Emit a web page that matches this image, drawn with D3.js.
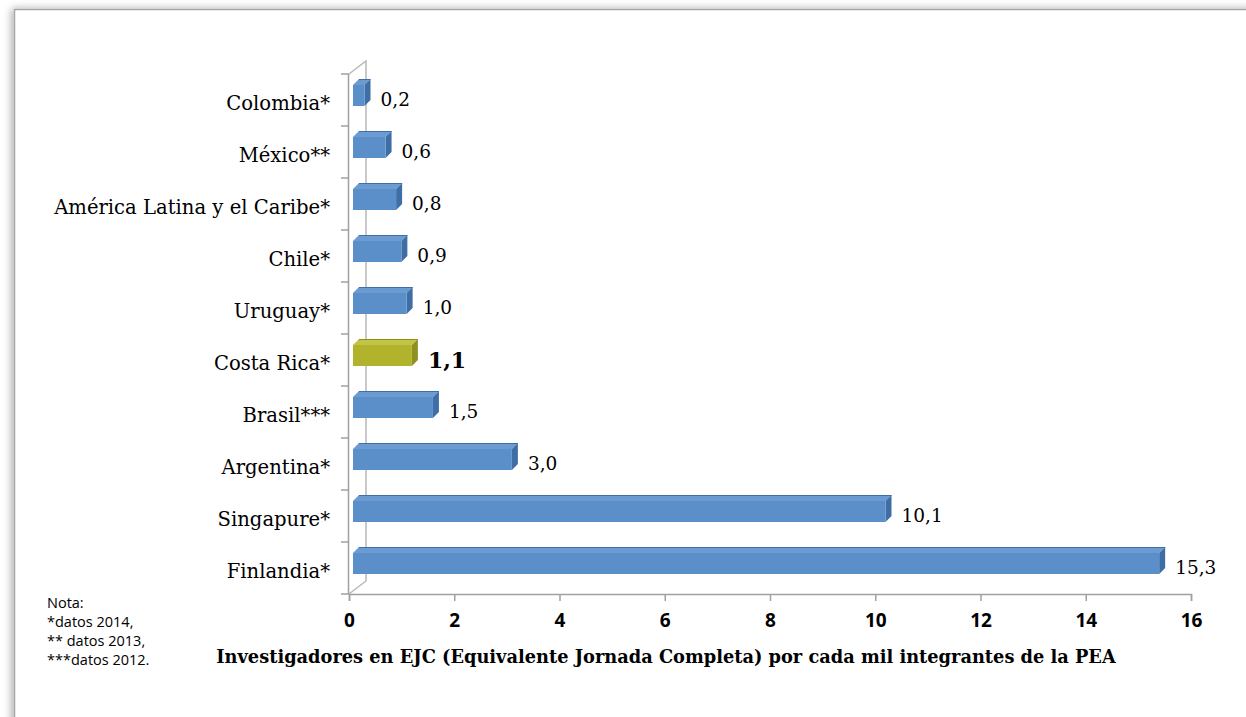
<!DOCTYPE html>
<html><head><meta charset="utf-8">
<script src="https://cdn.jsdelivr.net/npm/d3@7"></script>
<style>html,body{margin:0;padding:0;background:#fff;overflow:hidden}</style>
</head><body>
<svg id="c" width="1246" height="717"></svg>
<script>
const categories = ["Colombia*","México**","América Latina y el Caribe*","Chile*","Uruguay*","Costa Rica*","Brasil***","Argentina*","Singapure*","Finlandia*"];
const values = [0.2,0.6,0.8,0.9,1.0,1.1,1.5,3.0,10.1,15.3];
const valueLabels = ["0,2","0,6","0,8","0,9","1,0","1,1","1,5","3,0","10,1","15,3"];
const highlight = ["Costa Rica*"];
const xTicks = [0,2,4,6,8,10,12,14,16];
const axisTitle = "Investigadores en EJC (Equivalente Jornada Completa) por cada mil integrantes de la PEA";
const notes = ["Nota:","*datos 2014,","** datos 2013,","***datos 2012."];

const svg = d3.select("#c");
const defs = svg.append("defs");
const f = defs.append("filter").attr("id","sh").attr("x","-5%").attr("y","-5%").attr("width","110%").attr("height","110%");
f.append("feGaussianBlur").attr("in","SourceAlpha").attr("stdDeviation",4);
f.append("feOffset").attr("dx",-2).attr("dy",0).attr("result","b");
f.append("feComponentTransfer").append("feFuncA").attr("type","linear").attr("slope",0.35);
const fm = f.append("feMerge"); fm.append("feMergeNode"); fm.append("feMergeNode").attr("in","SourceGraphic");

// frame
svg.append("rect").attr("x",14.5).attr("y",9.5).attr("width",1300).attr("height",800)
  .attr("fill","#fff").attr("stroke","#a6a6a6").attr("stroke-width",1.5).attr("filter","url(#sh)");

const x = d3.scaleLinear().domain([0,16]).range([349,1191]);
const y = d3.scaleBand().domain(categories).range([74,594]).paddingInner(0).paddingOuter(0);

const axisColor = "#a0a0a0";
const g = svg.append("g");
// back wall lines (3D)
const dX = 17, dY = -13;
g.append("path").attr("d",`M${x(0)},${y.range()[1]} L${x(0)+dX},${y.range()[1]+dY} L${x(0)+dX},${y.range()[0]+dY} L${x(0)},${y.range()[0]}`)
  .attr("fill","none").attr("stroke","#b8b8b8").attr("stroke-width",1.5);
// left axis
g.append("line").attr("x1",x(0)-0.5).attr("x2",x(0)-0.5).attr("y1",y.range()[0]).attr("y2",y.range()[1])
  .attr("stroke",axisColor).attr("stroke-width",1.5);
categories.concat(["_end"]).forEach((c,i)=>{
  const yy = i<categories.length ? y(c) : y.range()[1];
  g.append("line").attr("x1",x(0)-8).attr("x2",x(0)).attr("y1",yy).attr("y2",yy).attr("stroke",axisColor).attr("stroke-width",1.5);
});
// bottom axis
const xa = g.append("g").attr("transform",`translate(0,${y.range()[1]})`)
  .call(d3.axisBottom(x).tickValues(xTicks).tickSize(7).tickPadding(13).tickFormat(d3.format("d")));
xa.select(".domain").attr("stroke",axisColor).attr("stroke-width",1.5);
xa.selectAll(".tick line").attr("stroke",axisColor).attr("stroke-width",1.5);
xa.selectAll(".tick text").attr("font-family","'Open Sans',sans-serif").attr("font-weight","bold").attr("font-size",19).attr("fill","#000");

// bars
const d = 6;
categories.forEach((c,i)=>{
  const hi = highlight.includes(c);
  const front = hi ? "#b2b32d" : "#5a8fc9";
  const top = hi ? "#c3c345" : "#6b9bd1";
  const side = hi ? "#8f901f" : "#3f6ea6";
  const x0 = x(0)+4, x1 = x(values[i])+5;
  const y0 = y(c)+11, y1 = y(c)+32;
  const bg = g.append("g");
  bg.append("path").attr("d",`M${x0},${y0} L${x0+d},${y0-d} L${x1+d},${y0-d} L${x1},${y0} Z`).attr("fill",top);
  bg.append("path").attr("d",`M${x1},${y0} L${x1+d},${y0-d} L${x1+d},${y1-d} L${x1},${y1} Z`).attr("fill",side);
  bg.append("rect").attr("x",x0).attr("y",y0).attr("width",x1-x0).attr("height",y1-y0).attr("fill",front);
  bg.append("line").attr("x1",x0+d).attr("x2",x1+d).attr("y1",y0-d+0.5).attr("y2",y0-d+0.5).attr("stroke",side).attr("stroke-width",1);
  bg.append("text").attr("x",x1+d+10).attr("y",y(c)+y.bandwidth()/2).attr("dy","0.35em")
    .attr("font-family","'DejaVu Serif',serif").attr("font-size",hi?22:18.5).attr("font-weight",hi?"bold":"normal")
    .attr("fill","#000").text(valueLabels[i]);
});

// category labels
categories.forEach(c=>{
  g.append("text").attr("x",330).attr("y",y(c)+y.bandwidth()/2+3).attr("dy","0.35em").attr("text-anchor","end")
    .attr("font-family","'DejaVu Serif',serif").attr("font-size",19.6).attr("fill","#000").text(c);
});

// axis title
svg.append("text").attr("x",(216+1116)/2).attr("y",657).attr("dy","0.35em").attr("text-anchor","middle")
  .attr("font-family","'DejaVu Serif',serif").attr("font-weight","bold").attr("font-size",17.8).attr("fill","#000").text(axisTitle);

// notes
notes.forEach((t,i)=>{
  svg.append("text").attr("x",47).attr("y",603+i*19).attr("dy","0.35em")
    .attr("font-family","'Open Sans',sans-serif").attr("font-size",14.5).attr("fill","#000").text(t);
});
</script>
</body></html>
